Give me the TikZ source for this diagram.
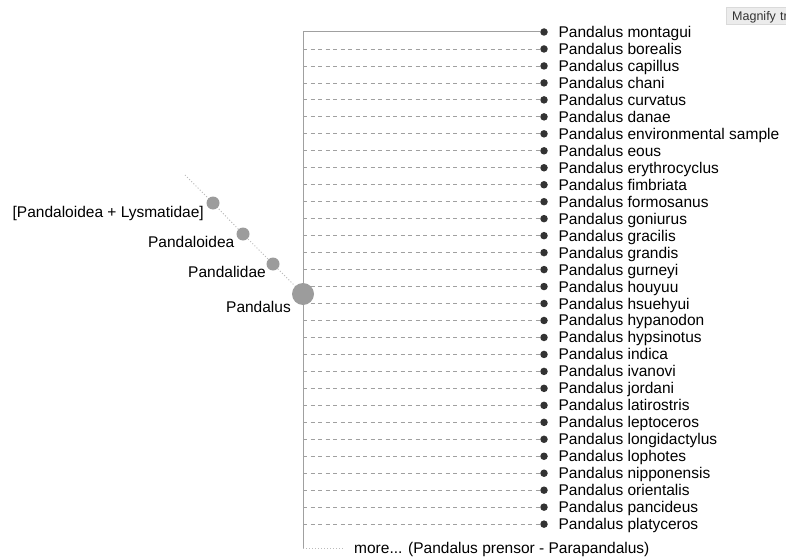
\documentclass[tikz,border=0pt]{standalone}
\usepackage{fontspec}
\setmainfont{Liberation Sans}
\usetikzlibrary{positioning, backgrounds}
\definecolor{treegray}{HTML}{A0A0A0}
\definecolor{stemgray}{HTML}{BBBBBB}
\definecolor{rankgray}{HTML}{9C9C9C}
\definecolor{leafdark}{HTML}{333333}
\definecolor{tipfill}{HTML}{ECECEC}
\definecolor{tipdraw}{HTML}{DADADA}

\begin{document}
\begin{tikzpicture}[x=1pt, y=-1pt,
    leaf/.style={circle, fill=leafdark, inner sep=0pt, minimum size=7.5pt},
    rank/.style={circle, fill=rankgray, inner sep=0pt, minimum size=13pt},
    leaflabel/.style={anchor=west, inner sep=0pt, text height=11pt, text depth=0pt, font=\fontsize{15.5}{17}\selectfont},
    ranklabel/.style={anchor=east, inner sep=0pt, text height=11pt, text depth=0pt, font=\fontsize{15.5}{17}\selectfont},
    branch/.style={draw=treegray, line width=0.8pt, dash pattern=on 4pt off 3.5pt},
    stem/.style={draw=stemgray, line width=1pt, dash pattern=on 1pt off 2pt}]
\useasboundingbox (0,0) rectangle (786,559);
\clip (0,0) rectangle (786,559);

% lineage on the left
\coordinate (stemtop) at (185,175);
\node[rank] (lysmatidae) at (213,203) {};
\node[rank] (pandaloidea) at (243,234) {};
\node[rank] (pandalidae) at (273,264) {};
\node[rank, minimum size=22pt] (pandalus) at (303,294) {};
\node[ranklabel] (lysmatidaelabel) at ([shift={(-9,9)}]lysmatidae.center) {[Pandaloidea + Lysmatidae]};
\node[ranklabel] (pandaloidealabel) at ([shift={(-8.5,8)}]pandaloidea.center) {Pandaloidea};
\node[ranklabel] (pandalidaelabel) at ([shift={(-7,8)}]pandalidae.center) {Pandalidae};
\node[ranklabel] (pandaluslabel) at ([shift={(-12,13)}]pandalus.center) {Pandalus};

% species
\coordinate (trunktop) at (303,32);
\coordinate (trunkbot) at (303,548);
\foreach \sp [count=\i from 0] in {montagui, borealis, capillus, chani, curvatus, danae,
    environmental sample, eous, erythrocyclus, fimbriata, formosanus, goniurus, gracilis,
    grandis, gurneyi, houyuu, hsuehyui, hypanodon, hypsinotus, indica, ivanovi, jordani,
    latirostris, leptoceros, longidactylus, lophotes, nipponensis, orientalis, pancideus,
    platyceros} {
  \node[leaf] (leaf\i) at (544, 32+\i*16.97) {};
  \node[leaflabel, right=10.5pt of leaf\i] (label\i) {Pandalus \sp};
  \coordinate (fork\i) at (trunktop |- leaf\i);
}
\coordinate (morestub) at (343,548);
\node[leaflabel, right=11pt of morestub] (morelabel) {more... (Pandalus prensor - Parapandalus)};

\begin{scope}[on background layer]
  \draw[stem] (stemtop) -- (lysmatidae.center) -- (pandaloidea.center) -- (pandalidae.center) -- (pandalus.center);
  \draw[treegray, line width=1pt] (leaf0.west) -- (trunktop) -- (trunkbot);
  \foreach \i in {1,...,29} {
    \draw[branch] (fork\i) -- (leaf\i.west);
  }
  \draw[stem] (trunkbot) -- (morestub);
\end{scope}

% tooltip, cut off by the right edge
\node[draw=tipdraw, fill=tipfill, anchor=north west, minimum height=17pt, inner ysep=0pt,
    inner xsep=0pt, text width=70pt, text depth=0pt, text=leafdark,
    font=\fontsize{12.5}{14}\selectfont] (tooltip) at (726,7) {\hspace*{6pt}Magnify tr};
\end{tikzpicture}
\end{document}
